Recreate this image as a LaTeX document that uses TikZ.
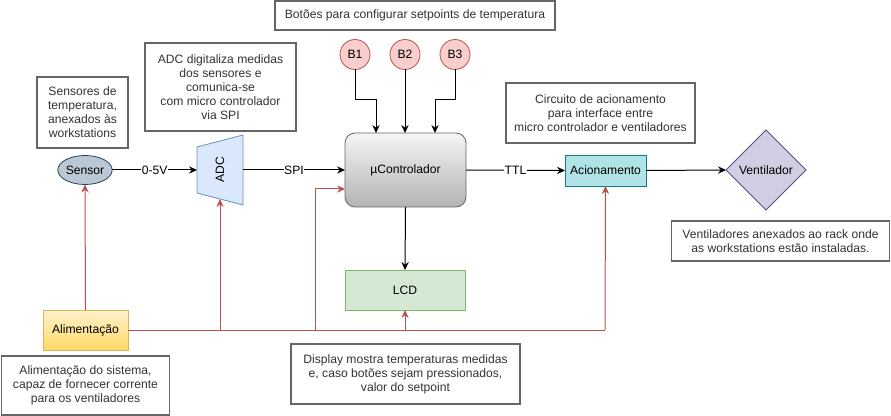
\documentclass[tikz,border=0pt]{standalone}
\usepackage{fontspec}
\setmainfont{Liberation Sans}
\usetikzlibrary{shapes.geometric,arrows.meta,calc}
\definecolor{cmtline}{HTML}{666666}
\definecolor{cmttext}{HTML}{333333}
\definecolor{redl}{HTML}{B85450}
\definecolor{redf}{HTML}{F8CECC}
\definecolor{sensf}{HTML}{BAC8D3}
\definecolor{sensl}{HTML}{23445D}
\definecolor{adcf}{HTML}{DAE8FC}
\definecolor{adcl}{HTML}{6C8EBF}
\definecolor{acf}{HTML}{B0E3E6}
\definecolor{acl}{HTML}{0E8088}
\definecolor{vf}{HTML}{D0CEE2}
\definecolor{vl}{HTML}{56517E}
\definecolor{lcdf}{HTML}{D5E8D4}
\definecolor{lcdl}{HTML}{82B366}
\definecolor{ucl}{HTML}{666666}
\definecolor{ucA}{HTML}{F5F5F5}
\definecolor{ucB}{HTML}{B3B3B3}
\definecolor{alA}{HTML}{FFF2CC}
\definecolor{alB}{HTML}{FFD966}
\definecolor{all}{HTML}{D6B656}
\begin{document}
\begin{tikzpicture}[x=0.75pt,y=-0.75pt,
  font=\fontsize{9.1}{10.5}\selectfont,
  every node/.style={inner sep=0pt, outer sep=0pt},
  cmt/.style={draw=cmtline, line width=1.1pt, text=cmttext, align=center, fill=white},
  blk/.style={line width=0.6pt},
  conn/.style={line width=0.75pt, -{Stealth[length=6pt,width=5.5pt,inset=2pt]}},
  pline/.style={line width=0.75pt, draw=redl},
  parr/.style={line width=0.75pt, draw=redl, -{Stealth[length=6pt,width=5.5pt,inset=2pt]}, color=redl},
  btn/.style={circle, draw=redl, fill=redf, minimum size=30*0.75pt, blk},
  lbl/.style={fill=white, inner sep=0.5pt}
]
\useasboundingbox (0,0) rectangle (891,416);

% comment boxes
\node[cmt, minimum width=280*0.75pt, minimum height=29*0.75pt] (ctitle) at (415,15.5) {Botões para configurar setpoints de temperatura};
\node[cmt, minimum width=91*0.75pt, minimum height=71*0.75pt] (csens) at (82.5,112.5) {Sensores de\\temperatura,\\anexados às\\workstations};
\node[cmt, minimum width=151*0.75pt, minimum height=88*0.75pt] (cadc) at (220.5,87) {ADC digitaliza medidas\\dos sensores e\\comunica-se\\com micro controlador\\via SPI};
\node[cmt, minimum width=189*0.75pt, minimum height=60*0.75pt] (cacion) at (600.5,113) {Circuito de acionamento\\para interface entre\\micro controlador e ventiladores};
\node[cmt, minimum width=218*0.75pt, minimum height=40*0.75pt] (cvent) at (780.5,241) {Ventiladores anexados ao rack onde\\as workstations estão instaladas.};
\node[cmt, minimum width=168*0.75pt, minimum height=59*0.75pt] (calim) at (85.5,385.5) {Alimentação do sistema,\\capaz de fornecer corrente\\para os ventiladores};
\node[cmt, minimum width=229*0.75pt, minimum height=60*0.75pt] (clcd) at (405.5,374) {Display mostra temperaturas medidas\\e, caso botões sejam pressionados,\\valor do setpoint};

% blocks
\node[ellipse, draw=sensl, fill=sensf, blk, minimum width=50*0.75pt, minimum height=29*0.75pt] (sensor) at (85,170) {Sensor};
\node[minimum width=46*0.75pt, minimum height=71*0.75pt] (adc) at (220,170) {};
\filldraw[draw=adcl, fill=adcf, blk] (197,147) -- (243,135) -- (243,205) -- (197,193) -- cycle;
\node[rotate=90] at (adc.center) {ADC};
\coordinate (adcb) at (220,199);
\node[draw=ucl, blk, rounded corners=10*0.75pt, top color=ucA, bottom color=ucB, minimum width=121*0.75pt, minimum height=74*0.75pt] (uc) at (405.5,170) {µControlador};
\node[draw=acl, fill=acf, blk, minimum width=81*0.75pt, minimum height=31*0.75pt] (acion) at (605.5,170.5) {Acionamento};
\node[diamond, draw=vl, fill=vf, blk, minimum width=80*0.75pt, minimum height=80*0.75pt] (vent) at (766,170) {Ventilador};
\node[draw=lcdl, fill=lcdf, blk, minimum width=120*0.75pt, minimum height=40*0.75pt] (lcd) at (405,290) {LCD};
\node[draw=all, blk, top color=alA, bottom color=alB, minimum width=85*0.75pt, minimum height=40*0.75pt] (alim) at (85.5,330) {Alimentação};
\node[btn] (b1) at (355,54.5) {B1};
\node[btn] (b2) at (405,54.5) {B2};
\node[btn] (b3) at (455,54.5) {B3};

% black connectors
\draw[conn] (sensor.east) -- node[lbl] {0-5V} (adc.west);
\draw[conn] (adc.east) -- node[lbl] {SPI} (uc.west);
\draw[conn] (uc.east) -- node[lbl] {TTL} (acion.west);
\draw[conn] (acion.east) -- (vent.west);
\draw[conn] (uc.south) -- (lcd.north);
\draw[conn] (b1.south) -- (355,100) -| (376,133);
\draw[conn] (b2.south) -- (b2 |- uc.north);
\draw[conn] (b3.south) -- (455,100) -| (435,133);

% power connectors
\draw[pline] (alim.east) -- (605,330);
\draw[parr] (605,330) -- (acion.south);
\draw[parr] (alim.north) -- (sensor.south);
\draw[parr] (220,330) -- (adcb);
\draw[parr] (315,330) |- (uc.west |- 0,189);
\draw[parr] (405,330) -- (lcd.south);
\end{tikzpicture}
\end{document}
